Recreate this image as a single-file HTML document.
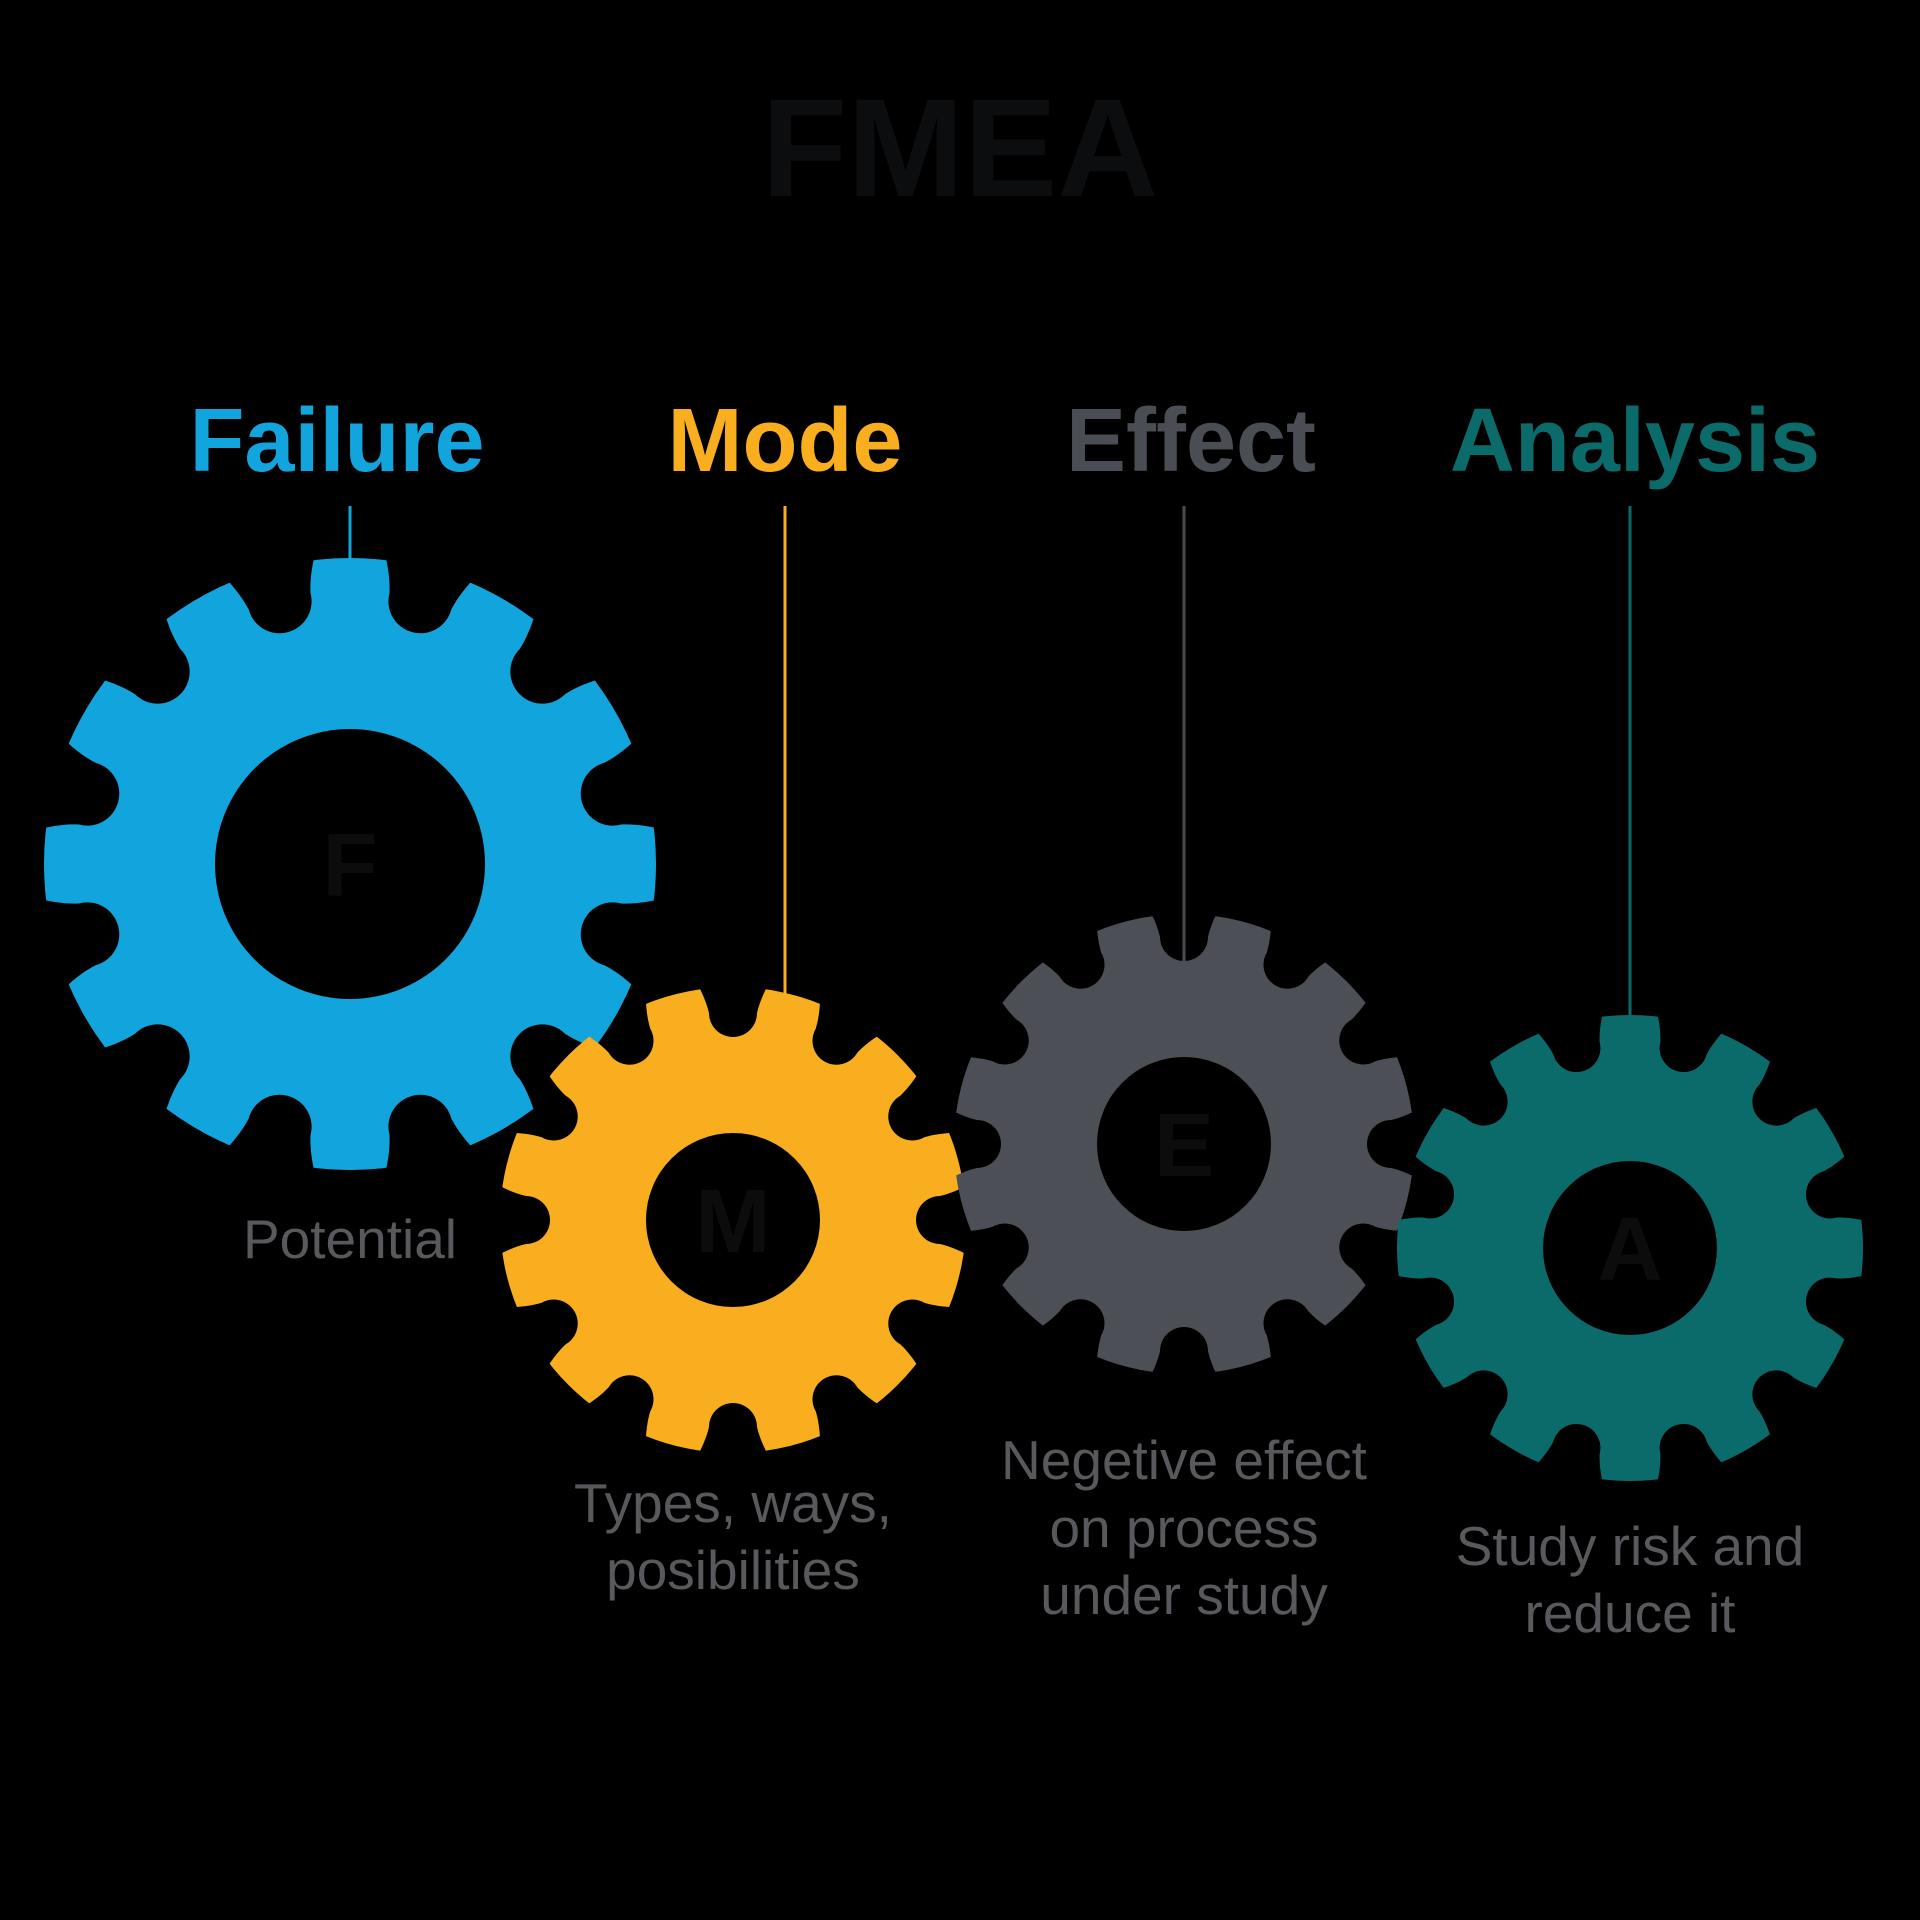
<!DOCTYPE html>
<html><head><meta charset="utf-8"><style>html,body{margin:0;padding:0;background:#000;}svg{display:block}</style></head>
<body>
<svg width="1920" height="1920" viewBox="0 0 1920 1920" xmlns="http://www.w3.org/2000/svg">
<defs>
<path id="nB" fill="#000" d="M -32,-272 A 32 32 0 0 0 32,-272 C 36,-290 44,-305 58,-330 L -58,-330 C -44,-305 -36,-290 -32,-272 Z"/>
<path id="nS" fill="#000" d="M -24,-207 A 24 24 0 0 0 24,-207 C 27,-220 33,-232 44,-252 L -44,-252 C -33,-232 -27,-220 -24,-207 Z"/>
</defs>
<rect width="1920" height="1920" fill="#000"/>
<text x="960" y="196" text-anchor="middle" font-family="Liberation Sans, sans-serif" font-weight="bold" font-size="140" fill="#0c0d0f">FMEA</text>
<g font-family="Liberation Sans, sans-serif" font-weight="bold" font-size="90" text-anchor="middle">
<text x="337" y="471" fill="#12a5dd">Failure</text>
<text x="785" y="471" fill="#f8ae1f">Mode</text>
<text x="1191" y="471" fill="#4a4e54">Effect</text>
<text x="1635" y="471" fill="#0b6b6b">Analysis</text>
</g>
<g stroke-width="3">
<line x1="350" y1="506" x2="350" y2="565" stroke="#12a5dd"/>
<line x1="785" y1="506" x2="785" y2="995" stroke="#f8ae1f"/>
<line x1="1184" y1="506" x2="1184" y2="966" stroke="#4a4e54"/>
<line x1="1630" y1="506" x2="1630" y2="1020" stroke="#0b6b6b"/>
</g>

<mask id="gm1" maskUnits="userSpaceOnUse" x="0" y="0" width="1920" height="1920">
<rect width="1920" height="1920" fill="#000"/>
<circle cx="350" cy="864" r="306" fill="#fff"/>
<circle cx="350" cy="864" r="135" fill="#000"/>
<g transform="translate(350 864)">
<use href="#nB" transform="rotate(15)"/><use href="#nB" transform="rotate(45)"/><use href="#nB" transform="rotate(75)"/><use href="#nB" transform="rotate(105)"/><use href="#nB" transform="rotate(135)"/><use href="#nB" transform="rotate(165)"/><use href="#nB" transform="rotate(195)"/><use href="#nB" transform="rotate(225)"/><use href="#nB" transform="rotate(255)"/><use href="#nB" transform="rotate(285)"/><use href="#nB" transform="rotate(315)"/><use href="#nB" transform="rotate(345)"/>
</g>
</mask>
<rect width="1920" height="1920" fill="#12a5dd" mask="url(#gm1)"/>

<mask id="gm2" maskUnits="userSpaceOnUse" x="0" y="0" width="1920" height="1920">
<rect width="1920" height="1920" fill="#000"/>
<circle cx="733" cy="1220" r="233" fill="#fff"/>
<circle cx="733" cy="1220" r="87" fill="#000"/>
<g transform="translate(733 1220)">
<use href="#nS" transform="rotate(0)"/><use href="#nS" transform="rotate(30)"/><use href="#nS" transform="rotate(60)"/><use href="#nS" transform="rotate(90)"/><use href="#nS" transform="rotate(120)"/><use href="#nS" transform="rotate(150)"/><use href="#nS" transform="rotate(180)"/><use href="#nS" transform="rotate(210)"/><use href="#nS" transform="rotate(240)"/><use href="#nS" transform="rotate(270)"/><use href="#nS" transform="rotate(300)"/><use href="#nS" transform="rotate(330)"/>
</g>
</mask>
<rect width="1920" height="1920" fill="#f8ae1f" mask="url(#gm2)"/>

<mask id="gm3" maskUnits="userSpaceOnUse" x="0" y="0" width="1920" height="1920">
<rect width="1920" height="1920" fill="#000"/>
<circle cx="1184" cy="1144" r="230" fill="#fff"/>
<circle cx="1184" cy="1144" r="87" fill="#000"/>
<g transform="translate(1184 1144)">
<use href="#nS" transform="rotate(0)"/><use href="#nS" transform="rotate(30)"/><use href="#nS" transform="rotate(60)"/><use href="#nS" transform="rotate(90)"/><use href="#nS" transform="rotate(120)"/><use href="#nS" transform="rotate(150)"/><use href="#nS" transform="rotate(180)"/><use href="#nS" transform="rotate(210)"/><use href="#nS" transform="rotate(240)"/><use href="#nS" transform="rotate(270)"/><use href="#nS" transform="rotate(300)"/><use href="#nS" transform="rotate(330)"/>
</g>
</mask>
<rect width="1920" height="1920" fill="#4c4f55" mask="url(#gm3)"/>

<mask id="gm4" maskUnits="userSpaceOnUse" x="0" y="0" width="1920" height="1920">
<rect width="1920" height="1920" fill="#000"/>
<circle cx="1630" cy="1248" r="233" fill="#fff"/>
<circle cx="1630" cy="1248" r="87" fill="#000"/>
<g transform="translate(1630 1248)">
<use href="#nS" transform="rotate(15)"/><use href="#nS" transform="rotate(45)"/><use href="#nS" transform="rotate(75)"/><use href="#nS" transform="rotate(105)"/><use href="#nS" transform="rotate(135)"/><use href="#nS" transform="rotate(165)"/><use href="#nS" transform="rotate(195)"/><use href="#nS" transform="rotate(225)"/><use href="#nS" transform="rotate(255)"/><use href="#nS" transform="rotate(285)"/><use href="#nS" transform="rotate(315)"/><use href="#nS" transform="rotate(345)"/>
</g>
</mask>
<rect width="1920" height="1920" fill="#0b6b6b" mask="url(#gm4)"/>

<g font-family="Liberation Sans, sans-serif" font-weight="bold" font-size="90" text-anchor="middle" fill="#0c0c0d">
<text x="350" y="896">F</text>
<text x="733" y="1252">M</text>
<text x="1184" y="1176">E</text>
<text x="1630" y="1280">A</text>
</g>
<g font-family="Liberation Sans, sans-serif" font-size="55" text-anchor="middle" fill="#58595c">
<text x="350" y="1258">Potential</text>
<text x="733" y="1522">Types, ways,</text>
<text x="733" y="1589">posibilities</text>
<text x="1184" y="1479">Negetive effect</text>
<text x="1184" y="1547">on process</text>
<text x="1184" y="1614">under study</text>
<text x="1630" y="1565">Study risk and</text>
<text x="1630" y="1632">reduce it</text>
</g>
</svg>
</body></html>
